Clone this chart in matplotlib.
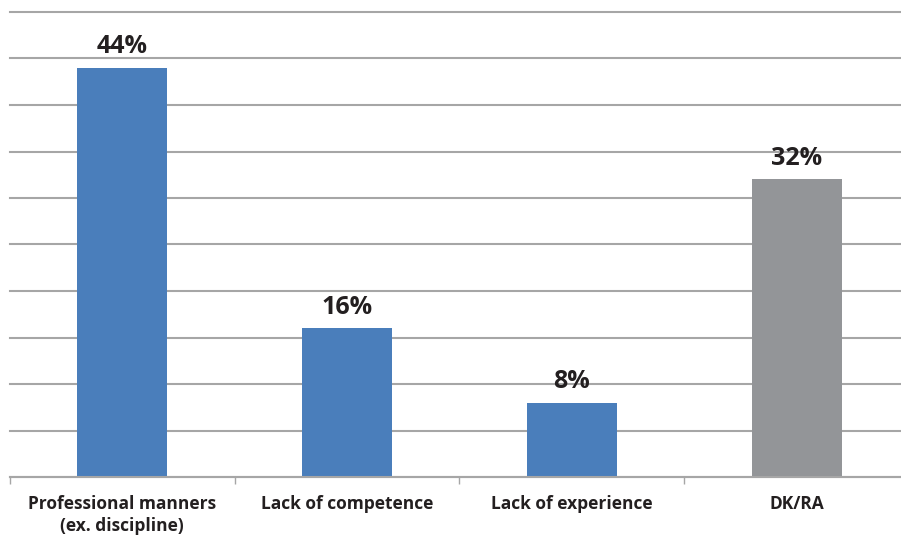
import matplotlib.pyplot as plt
import numpy as np

categories = ["Professional manners\n(ex. discipline)", "Lack of competence",
              "Lack of experience", "DK/RA"]
values = [44, 16, 8, 32]
colors = ["#4a7ebb", "#4a7ebb", "#4a7ebb", "#939598"]

plt.rcParams['font.family'] = ['Open Sans', 'DejaVu Sans']

fig = plt.figure(figsize=(9.01, 5.42), dpi=100)
ax = fig.add_axes([10 / 901, 65 / 542, 899 / 901, 465 / 542])

x = np.arange(len(categories))
bars = ax.bar(x, values, width=0.4, color=colors, zorder=3)

for b, v in zip(bars, values):
    ax.annotate(f"{v}%", (b.get_x() + b.get_width() / 2, v),
                xytext=(0, 6), textcoords="offset points",
                ha="center", va="bottom", fontsize=18, fontweight="bold",
                color="#231f20")

ax.set_xlim(-0.5, len(categories) - 0.5)
ax.set_ylim(0, 50)
ax.set_yticks(np.arange(0, 51, 5))
ax.yaxis.grid(True, color="#a6a6a6", linewidth=1.5, zorder=0)
for gl in ax.get_ygridlines():
    gl.set_clip_on(False)
ax.tick_params(axis="y", left=False, labelleft=False)

# boundary ticks as major, labels on minor
ax.set_xticks(np.arange(-0.5, len(categories), 1.0))
ax.set_xticklabels([])
ax.tick_params(axis="x", which="major", length=5, width=1, color="#a6a6a6",
               direction="out")
ax.set_xticks(x, minor=True)
ax.set_xticklabels(categories, minor=True, fontsize=12.5, fontweight="bold",
                   color="#231f20", linespacing=1.3)
ax.tick_params(axis="x", which="minor", length=0, pad=13)

for s in ["top", "right", "left"]:
    ax.spines[s].set_visible(False)
ax.spines["bottom"].set_color("#a6a6a6")
ax.spines["bottom"].set_linewidth(1.5)
ax.spines["bottom"].set_zorder(4)

fig.savefig("out.png", dpi=100)
